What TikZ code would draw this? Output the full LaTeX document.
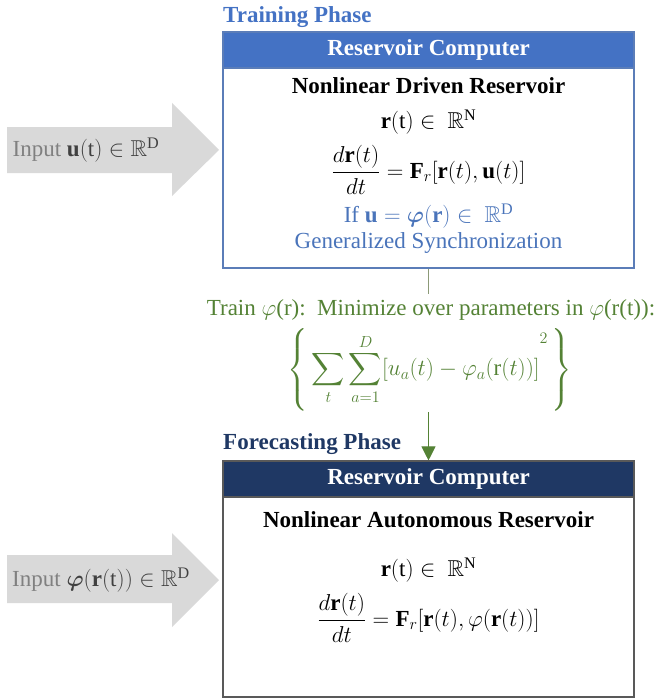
\RequirePackage{fix-cm}
\documentclass[tikz,border=0pt]{standalone}
\usepackage{amsmath,amssymb,bm}
\usepackage{fontspec}
\setmainfont{Liberation Serif}
\usetikzlibrary{arrows.meta,positioning}
\definecolor{headblue}{HTML}{4472C4}
\definecolor{headnavy}{HTML}{1F3864}
\definecolor{headedge}{HTML}{5B7DB8}
\definecolor{txtblue}{HTML}{4A74BA}
\definecolor{trgreen}{HTML}{548235}
\definecolor{rulegray}{HTML}{8C9A78}
\definecolor{arrowgray}{HTML}{D9D9D9}
\definecolor{inputgray}{HTML}{808080}
\definecolor{inputdark}{HTML}{404040}
\definecolor{boxgray}{HTML}{595959}
\newcommand{\rcfont}{\fontsize{23}{28}\selectfont}

\tikzset{
  phase/.style={anchor=west, inner sep=0pt, font=\rcfont\bfseries},
  headband/.style={minimum width=411pt, minimum height=36pt, inner sep=0pt, text=white, font=\rcfont\bfseries},
  rcbox/.style={minimum width=411pt, minimum height=236pt, inner sep=0pt},
  body/.style={inner sep=0pt, font=\rcfont},
  bodybold/.style={body, font=\rcfont\bfseries},
  inarrow/.style={fill=arrowgray, draw=none},
}

\begin{document}
\begin{tikzpicture}[x=1pt,y=-1pt]
		\useasboundingbox (0,0) rectangle (662,698);
		
		%%%%% TRAINING PHASE %%%%%
		
		\node[phase, text=headblue] (trainphase) at (223,17) {Training Phase};
		\node[rcbox, draw=headedge, line width=1.1pt] (trainbox) at (428.5,150) {};
		\node[headband, fill=headblue, draw=headedge, line width=1.1pt] (trainhead) at (428.5,50) {Reservoir Computer};
		
		\node[bodybold] (trainname) at (428.5,86) {Nonlinear Driven Reservoir};
		\node[body] (trainstate) at (428.5,122) {$\mathbf{r}(\mathrm{t})\in\ \mathbb{R}^{\mathrm{N}}$};
		\node[body] (traineq) at (428.5,170) {$\displaystyle\frac{d\mathbf{r}(t)}{dt}=\mathbf{F}_r[\mathbf{r}(t),\mathbf{u}(t)]$};
		\node[body, text=txtblue] (trainif) at (428.5,216) {If $\mathbf{u}=\bm{\varphi}(\mathbf{r})\in\ \mathbb{R}^{\mathrm{D}}$};
		\node[body, text=txtblue] (trainsync) at (428.5,243) {Generalized Synchronization};
		
		\draw[inarrow] (7,127) -- (172,127) -- (172,103) -- (219,150) -- (172,196) -- (172,173) -- (7,173) -- cycle;
		\node[body, text=inputdark] (trainin) at (86,150) {\textcolor{inputgray}{Input} $\mathbf{u}(\mathrm{t})\in\mathbb{R}^{\mathrm{D}}$};
		
		%%%%% TRAINING STEP %%%%%
		
		\coordinate (ruletop) at (428.5,294);
		\draw[line width=1pt, color=rulegray] (trainbox.south) -- (ruletop);
		\node[body, text=trgreen] (trainrule) at (431,310) {Train $\varphi$(r):\ \ Minimize over parameters in $\varphi$(r(t)):};
		\node[body, text=trgreen] (trainloss) at (430,370) {$\displaystyle\left\{\rule[-34pt]{0pt}{70pt}\sum_{t}\sum_{a=1}^{D}[u_a(t)-\varphi_a(\mathrm{r}(t))]^{\raisebox{2.2ex}{$\scriptstyle 2$}}\,\right\}$};
		\coordinate (losstail) at (428.5,412);
		
		%%%%% FORECASTING PHASE %%%%%
		
		\node[phase, text=headnavy] (forephase) at (223,444) {Forecasting Phase};
		\node[rcbox, draw=boxgray, line width=1.1pt] (forebox) at (428.5,579) {};
		\node[headband, fill=headnavy, draw=boxgray, line width=1.1pt] (forehead) at (428.5,479) {Reservoir Computer};
		
		\node[bodybold] (forename) at (428.5,520) {Nonlinear Autonomous Reservoir};
		\node[body] (forestate) at (428.5,570) {$\mathbf{r}(\mathrm{t})\in\ \mathbb{R}^{\mathrm{N}}$};
		\node[body] (foreeq) at (428.5,618) {$\displaystyle\frac{d\mathbf{r}(t)}{dt}=\mathbf{F}_r[\mathbf{r}(t),\varphi(\mathbf{r}(t))]$};
		
		\draw[inarrow] (7,555) -- (172,555) -- (172,533) -- (219,580) -- (172,627) -- (172,603) -- (7,603) -- cycle;
		\node[body, text=inputdark] (forein) at (101,580) {\textcolor{inputgray}{Input} $\bm{\varphi}(\mathbf{r}(\mathrm{t}))\in\mathbb{R}^{\mathrm{D}}$};
		
		\draw[line width=1pt, color=trgreen, -{Triangle[width=14pt,length=14pt]}] (losstail) -- (forehead.north);
		
		%%%%% END %%%%%
	\end{tikzpicture}
\end{document}
